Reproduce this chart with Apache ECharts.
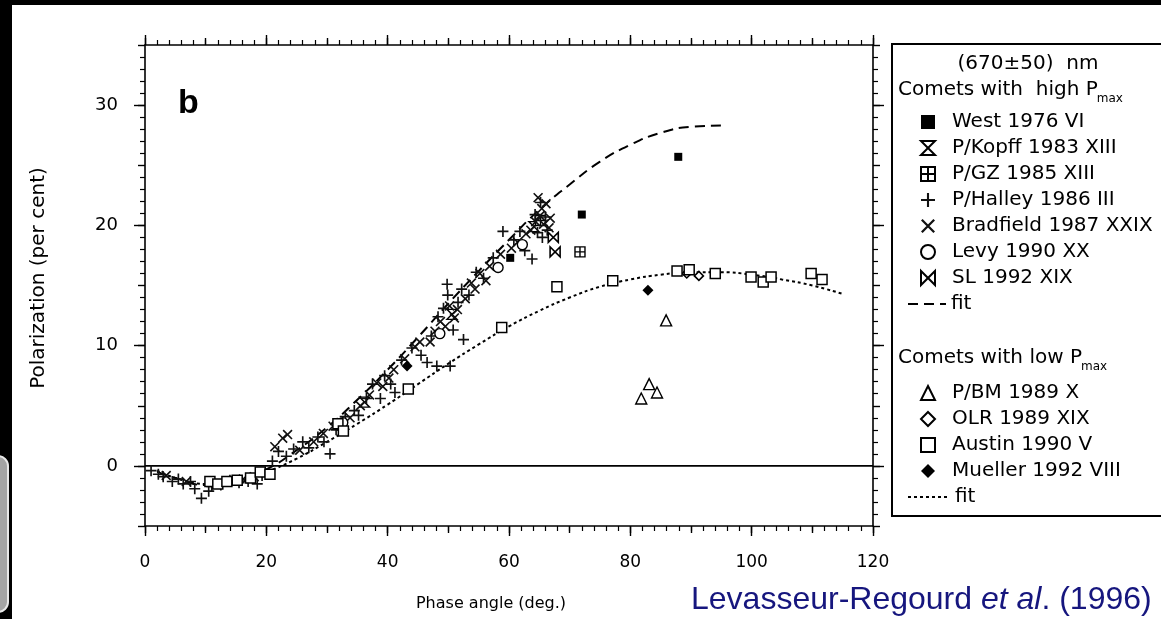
<!DOCTYPE html>
<html>
<head>
<meta charset="utf-8">
<script src="https://cdn.jsdelivr.net/npm/echarts@6/dist/echarts.min.js"></script>
<style>
html,body{margin:0;padding:0;background:#000;overflow:hidden}
#paper{position:absolute;left:12px;top:5px;width:1149px;height:614px;background:#fff}
#c{position:absolute;left:0;top:0;width:1161px;height:619px}
</style>
</head>
<body>
<div id="paper"></div>
<div id="c"></div>
<script>
// ---------------- data ----------------
const xTickLabels = [0, 20, 40, 60, 80, 100, 120];
const yTickLabels = [0, 10, 20, 30];

const highNames = ['West 1976 VI', 'P/Kopff 1983 XIII', 'P/GZ 1985 XIII', 'P/Halley 1986 III',
  'Bradfield 1987 XXIX', 'Levy 1990 XX', 'SL 1992 XIX'];
const lowNames = ['P/BM 1989 X', 'OLR 1989 XIX', 'Austin 1990 V', 'Mueller 1992 VIII'];

const west = [[60.2, 17.3], [72.0, 20.9], [87.9, 25.7]];
const kopff = [[36.2, 5.3], [50.6, 12.6], [64.1, 19.9]];
const gz = [[65.2, 20.4], [71.7, 17.8]];
const halley = [
  [1, -0.4], [2.2, -0.7], [3, -0.9], [4.5, -1.3], [5.5, -1.1], [6.3, -1.5], [7.5, -1.3], [8.2, -1.9],
  [9.3, -2.7], [10.5, -2.1], [11, -1.7], [12.5, -1.6], [14, -1.2], [15.5, -1.4], [17, -1.3], [18.5, -1.5], [19.3, -0.8],
  [21, 0.4], [22, 1.2], [23.3, 0.8], [24.5, 1.4], [26, 2.0], [27, 1.5], [28.5, 2.4], [29.5, 2.0], [30.5, 1.0],
  [31.5, 3.0], [33, 4.1], [34.5, 4.6], [35.2, 4.2], [36.5, 5.6], [37.5, 6.8], [38.8, 5.6], [39.5, 7.5], [40.5, 6.8], [41.2, 6.1],
  [42.3, 8.8], [44, 9.8], [45.5, 9.2], [46.5, 8.6], [47.2, 10.8], [48.1, 8.3], [48.3, 12.4], [49.2, 13.1], [49.8, 15.1],
  [49.9, 14.2], [50.3, 8.3], [50.8, 11.3], [51.6, 13.6], [52.2, 14.7], [52.5, 10.5],
  [53.4, 14.2], [54.6, 16.1], [55.8, 15.6], [57.4, 17.3], [59, 19.5], [60.8, 18.8], [61.8, 19.5], [62.6, 17.9], [63.8, 17.2],
  [64.3, 20.9], [64.7, 19.4], [65.2, 21.9], [65.5, 19.0], [66.0, 20.7], [66.3, 19.6]
];
const bradfield = [
  [3.5, -0.8], [6.8, -1.3], [16.2, -1.1], [18, -0.9],
  [21.4, 1.6], [22.7, 2.3], [23.5, 2.6], [25.5, 1.3], [27.8, 2.0], [29.4, 2.7],
  [31, 3.3], [33.8, 4.0], [35.5, 5.0], [37, 5.9], [38.2, 6.9], [39.2, 6.6], [40.2, 7.3], [41, 8.0],
  [42.8, 8.9], [44.5, 9.9], [45.3, 10.3], [47, 10.3], [47.8, 11.2], [48.7, 12.0], [49.5, 11.6], [50.2, 13.3],
  [51, 12.3], [51.5, 13.0], [52.8, 13.9],
  [53.8, 15.2], [54.4, 14.7], [55.2, 16.0], [56.2, 15.4], [56.8, 16.6], [58.6, 17.6], [60.4, 18.1], [61.4, 18.6], [62.8, 19.3],
  [63.6, 19.6], [64.4, 20.3], [64.8, 22.3], [65.1, 20.8], [65.4, 21.4], [65.7, 20.1], [66.1, 21.8], [66.6, 19.8], [66.8, 20.6]
];
const levy = [[32.6, 3.6], [48.6, 11.0], [58.2, 16.5], [62.2, 18.4]];
const sl = [[67.3, 19.0], [67.6, 17.8]];
const fitHigh = [[2, -0.5], [5, -1.0], [10, -1.6], [15, -1.3], [20, -0.3], [25, 1.3], [30, 3.2], [35, 5.5], [40, 8.0],
  [45, 10.7], [50, 13.5], [55, 16.2], [60, 18.8], [65, 21.3], [70, 23.4], [75, 25.3], [80, 26.7], [85, 27.7], [90, 28.2], [95, 28.3]];

const pbm = [[81.8, 5.6], [83.1, 6.8], [84.4, 6.1], [85.9, 12.1]];
const olr = [[89.3, 16.0], [91.3, 15.8]];
const austin = [[10.7, -1.3], [12, -1.5], [13.5, -1.3], [15.2, -1.2], [17.4, -1.0], [19, -0.5], [20.6, -0.7],
  [31.8, 3.5], [32.7, 2.9], [43.4, 6.4], [58.8, 11.5], [67.9, 14.9], [77.1, 15.4], [87.7, 16.2], [89.7, 16.3],
  [94, 16.0], [99.9, 15.7], [101.9, 15.3], [103.2, 15.7], [109.8, 16.0], [111.6, 15.5]];
const mueller = [[43.2, 8.3], [82.9, 14.6]];
const fitLow = [[2, -0.4], [5, -1.0], [10, -1.5], [15, -1.3], [20, -0.5], [25, 0.6], [30, 2.0], [35, 3.5], [40, 5.1],
  [45, 6.8], [50, 8.5], [55, 10.1], [60, 11.6], [65, 12.9], [70, 14.0], [75, 14.9], [80, 15.5], [85, 15.9],
  [90, 16.1], [95, 16.1], [100, 15.9], [105, 15.5], [110, 15.0], [115, 14.3]];

const zeroLine = [[0, 0], [120, 0]];

// ---------------- styling ----------------
const FONT = 'DejaVu Sans';
const BLACK = '#000';
const PLUS = 'path://M4.25,0H5.75V10H4.25Z M0,4.25H10V5.75H0Z';
const CROSS = 'path://M0,1.15L1.15,0L10,8.85L8.85,10Z M8.85,0L10,1.15L1.15,10L0,8.85Z';
const HOUR = 'path://M0,0L10,0L0,10L10,10Z';
const BOW = 'path://M0,0L0,10L10,0L10,10Z';
const BOXPLUS = 'path://M0,0H10V10H0Z M5,0V10 M0,5H10';

function mkX(pos, interval, tickLen, labels, line, minor) {
  return {
    type: 'value', position: pos, min: 0, max: 120, interval: interval,
    axisLine: { show: line, onZero: false, lineStyle: { color: BLACK, width: 1.6 } },
    axisTick: { show: true, length: tickLen, lineStyle: { color: BLACK, width: 1.4 } },
    minorTick: { show: minor, splitNumber: 10, length: 5, lineStyle: { color: BLACK, width: 1.2 } },
    axisLabel: { show: labels, margin: 28, color: BLACK, fontFamily: FONT, fontSize: 17,
      formatter: v => xTickLabels.includes(v) ? String(v) : '' },
    splitLine: { show: false }, minorSplitLine: { show: false }
  };
}
function mkY(pos, labels, line, major) {
  const ax = {
    type: 'value', position: pos, min: -5, max: 35, interval: 5,
    axisLine: { show: line, onZero: false, lineStyle: { color: BLACK, width: 1.6 } },
    axisTick: { show: true, length: major ? 11 : 7, lineStyle: { color: BLACK, width: 1.4 } },
    minorTick: { show: !major, splitNumber: 5, length: 5, lineStyle: { color: BLACK, width: 1.2 } },
    axisLabel: { show: labels, margin: 27, color: BLACK, fontFamily: FONT, fontSize: 18,
      formatter: v => yTickLabels.includes(v) ? String(v) : '' },
    splitLine: { show: false }, minorSplitLine: { show: false }
  };
  if (major) ax.axisTick.customValues = yTickLabels;
  return ax;
}

function sc(name, data, symbol, size, fill, stroke, bw) {
  return {
    type: 'scatter', name: name, data: data, symbol: symbol, symbolSize: size,
    itemStyle: { color: fill, borderColor: stroke, borderWidth: bw, opacity: 1 },
    emphasis: { disabled: true }, silent: true, z: 4
  };
}

const legendText = { fontFamily: FONT, fontSize: 20, color: BLACK, lineHeight: 20 };
const markerLegendText = Object.assign({}, legendText, { padding: [0, 0, 0, 12] });
const legendFmt = n => n.indexOf('fit') === 0 ? 'fit' : n;
const ROW = 26;
const hiTop = 107, loTop = 378;
const hideSym = { color: 'rgba(0,0,0,0)', borderColor: 'rgba(0,0,0,0)', borderWidth: 0 };

const measureCtx = document.createElement('canvas').getContext('2d');
measureCtx.font = '20px "DejaVu Sans"';

function headerWithSub(left, y, main) {
  const w = measureCtx.measureText(main).width;
  return [
    { type: 'text', x: left, y: y, style: { text: main, fontFamily: FONT, fontSize: 20, fill: BLACK, verticalAlign: 'middle' } },
    { type: 'text', x: left + w - 1, y: y + 9, style: { text: 'max', fontFamily: FONT, fontSize: 12, fill: BLACK, verticalAlign: 'middle' } }
  ];
}

const chart = echarts.init(document.getElementById('c'), null, { renderer: 'canvas', width: 1161, height: 619 });

const option = {
  animation: false,
  backgroundColor: 'transparent',
  grid: { left: 145, right: 288, top: 45, bottom: 93, containLabel: false },
  xAxis: [mkX('bottom', 20, 10, true, true, true), mkX('bottom', 10, 7, false, false, false),
          mkX('top', 20, 10, false, true, true), mkX('top', 10, 7, false, false, false)],
  yAxis: [mkY('left', true, true, false), mkY('left', false, false, true),
          mkY('right', false, true, false), mkY('right', false, false, true)],
  legend: [
    { data: highNames, orient: 'vertical', left: 915, top: hiTop, itemWidth: 14, itemHeight: 14, itemGap: ROW - 20,
      selectedMode: false, textStyle: markerLegendText, padding: 5 },
    { data: [{ name: 'fit (high)', itemStyle: hideSym }], orient: 'vertical', left: 902, top: hiTop + 7 * ROW,
      itemWidth: 38, itemHeight: 14, selectedMode: false, textStyle: legendText, formatter: legendFmt, padding: 5 },
    { data: lowNames, orient: 'vertical', left: 915, top: loTop, itemWidth: 14, itemHeight: 14, itemGap: ROW - 20,
      selectedMode: false, textStyle: markerLegendText, padding: 5 },
    { data: [{ name: 'fit (low)', itemStyle: hideSym }], orient: 'vertical', left: 902, top: loTop + 4 * ROW,
      itemWidth: 42, itemHeight: 14, selectedMode: false, textStyle: legendText, formatter: legendFmt, padding: 5 }
  ],
  graphic: [
    { type: 'rect', shape: { x: -30, y: 456, width: 38, height: 156, r: 10 }, style: { fill: '#a4a4a4', stroke: '#e8e8e8', lineWidth: 2 } },
    { type: 'rect', shape: { x: 892, y: 44, width: 300, height: 472 }, style: { fill: 'none', stroke: BLACK, lineWidth: 2 }, z: -1 },
    { type: 'text', x: 1028, y: 64, style: { text: '(670±50)  nm', fontFamily: FONT, fontSize: 20, fill: BLACK, align: 'center', verticalAlign: 'middle' } },
    ...headerWithSub(898, 90, 'Comets with  high P'),
    ...headerWithSub(898, 358, 'Comets with low P'),
    { type: 'text', x: 178, y: 104, style: { text: 'b', fontFamily: 'Liberation Sans', fontWeight: 'bold', fontSize: 34, fill: BLACK, verticalAlign: 'middle' } },
    { type: 'text', x: 39, y: 278, rotation: Math.PI / 2, style: { text: 'Polarization (per cent)', fontFamily: FONT, fontSize: 20, fill: BLACK, align: 'center', verticalAlign: 'middle' } },
    { type: 'text', x: 491, y: 604, style: { text: 'Phase angle (deg.)', fontFamily: FONT, fontSize: 16, fill: BLACK, align: 'center', verticalAlign: 'middle' } },
    { type: 'text', x: 691, y: 600, style: {
        text: '{n|Levasseur-Regourd }{i|et al}{n|. (1996)}', verticalAlign: 'middle',
        rich: {
          n: { fontFamily: 'Liberation Sans', fontSize: 32, fill: '#16167e' },
          i: { fontFamily: 'Liberation Sans', fontSize: 32, fontStyle: 'italic', fill: '#16167e' }
        } } }
  ],
  series: [
    { type: 'line', name: 'zero', data: zeroLine, symbol: 'none', silent: true, z: 1,
      lineStyle: { color: BLACK, width: 1.6 } },
    { type: 'line', name: 'fit (high)', data: fitHigh, smooth: true, symbol: 'none', silent: true, z: 2,
      lineStyle: { color: BLACK, width: 2, type: [10, 6] }, itemStyle: { color: BLACK } },
    { type: 'line', name: 'fit (low)', data: fitLow, smooth: true, symbol: 'none', silent: true, z: 2,
      lineStyle: { color: BLACK, width: 2, type: [3, 3] }, itemStyle: { color: BLACK } },
    sc('West 1976 VI', west, 'rect', 8, BLACK, BLACK, 0),
    sc('P/Kopff 1983 XIII', kopff, HOUR, 10, '#fff', BLACK, 1.4),
    sc('P/GZ 1985 XIII', gz, BOXPLUS, 10, '#fff', BLACK, 1.4),
    sc('P/Halley 1986 III', halley, PLUS, 11, '#111', '#111', 0),
    sc('Bradfield 1987 XXIX', bradfield, CROSS, 10, '#111', '#111', 0),
    sc('Levy 1990 XX', levy, 'circle', 10, '#fff', BLACK, 1.4),
    sc('SL 1992 XIX', sl, BOW, 10, '#fff', BLACK, 1.6),
    sc('P/BM 1989 X', pbm, 'triangle', 11, '#fff', BLACK, 1.4),
    sc('OLR 1989 XIX', olr, 'diamond', 9, '#fff', BLACK, 1.6),
    sc('Austin 1990 V', austin, 'rect', 10, '#fff', BLACK, 1.5),
    sc('Mueller 1992 VIII', mueller, 'diamond', 11, BLACK, BLACK, 0)
  ]
};
chart.setOption(option);
</script>
</body>
</html>
